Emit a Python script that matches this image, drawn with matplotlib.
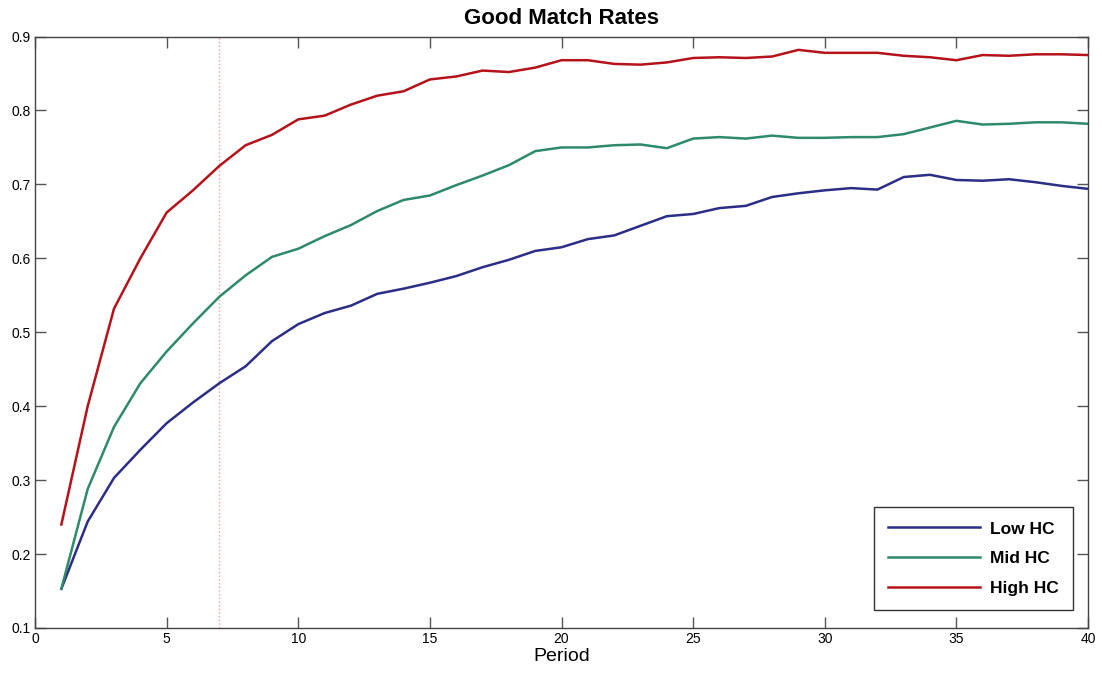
import matplotlib
matplotlib.use("Agg")
import matplotlib.pyplot as plt

plt.rcParams['font.family'] = ['Liberation Sans', 'DejaVu Sans']

periods = list(range(1, 41))

low_hc = [0.153, 0.244, 0.303, 0.341, 0.377, 0.405, 0.431, 0.454, 0.488, 0.511,
          0.526, 0.536, 0.552, 0.559, 0.567, 0.576, 0.588, 0.598, 0.610, 0.615,
          0.626, 0.631, 0.644, 0.657, 0.660, 0.668, 0.671, 0.683, 0.688, 0.692,
          0.695, 0.693, 0.710, 0.713, 0.706, 0.705, 0.707, 0.703, 0.698, 0.694]

mid_hc = [0.153, 0.288, 0.372, 0.431, 0.474, 0.512, 0.548, 0.577, 0.602, 0.613,
          0.630, 0.645, 0.664, 0.679, 0.685, 0.699, 0.712, 0.726, 0.745, 0.750,
          0.750, 0.753, 0.754, 0.749, 0.762, 0.764, 0.762, 0.766, 0.763, 0.763,
          0.764, 0.764, 0.768, 0.777, 0.786, 0.781, 0.782, 0.784, 0.784, 0.782]

high_hc = [0.240, 0.400, 0.532, 0.600, 0.662, 0.692, 0.725, 0.753, 0.767, 0.788,
           0.793, 0.808, 0.820, 0.826, 0.842, 0.846, 0.854, 0.852, 0.858, 0.868,
           0.868, 0.863, 0.862, 0.865, 0.871, 0.872, 0.871, 0.873, 0.882, 0.878,
           0.878, 0.878, 0.874, 0.872, 0.868, 0.875, 0.874, 0.876, 0.876, 0.875]

cutoff_period = 7

fig = plt.figure(figsize=(11.02, 6.77), dpi=100)
ax = fig.add_axes([0.0318, 0.0724, 0.9555, 0.8736])

ax.axvline(cutoff_period, color='#f4a0a8', linestyle=':', linewidth=1)
ax.plot(periods, low_hc, color='#2b2d87', linewidth=1.8, label='Low HC')
ax.plot(periods, mid_hc, color='#2e8a68', linewidth=1.8, label='Mid HC')
ax.plot(periods, high_hc, color='#b5121b', linewidth=1.8, label='High HC')

ax.set_xlim(0, 40)
ax.set_ylim(0.1, 0.9)
ax.set_xticks(range(0, 41, 5))
ax.set_yticks([0.1, 0.2, 0.3, 0.4, 0.5, 0.6, 0.7, 0.8, 0.9])
ax.set_yticklabels(['0.1', '0.2', '0.3', '0.4', '0.5', '0.6', '0.7', '0.8', '0.9'])
ax.tick_params(direction='in', top=True, right=True, length=8, width=1,
               color='#555555', labelsize=10, pad=3)
for s in ax.spines.values():
    s.set_color('#444444')
    s.set_linewidth(1)

ax.set_title('Good Match Rates', fontsize=16, fontweight='bold', pad=9)
ax.set_xlabel('Period', fontsize=14, labelpad=1)

leg = ax.legend(loc='lower right', bbox_to_anchor=(0.9855, 0.03),
                prop={'weight': 'bold', 'size': 12.5}, handlelength=5.3,
                handletextpad=0.6, fancybox=False, edgecolor='#333333',
                framealpha=1, borderpad=0.8, labelspacing=0.85,
                borderaxespad=0)
leg.get_frame().set_linewidth(1)

fig.savefig('out.png', dpi=100)
